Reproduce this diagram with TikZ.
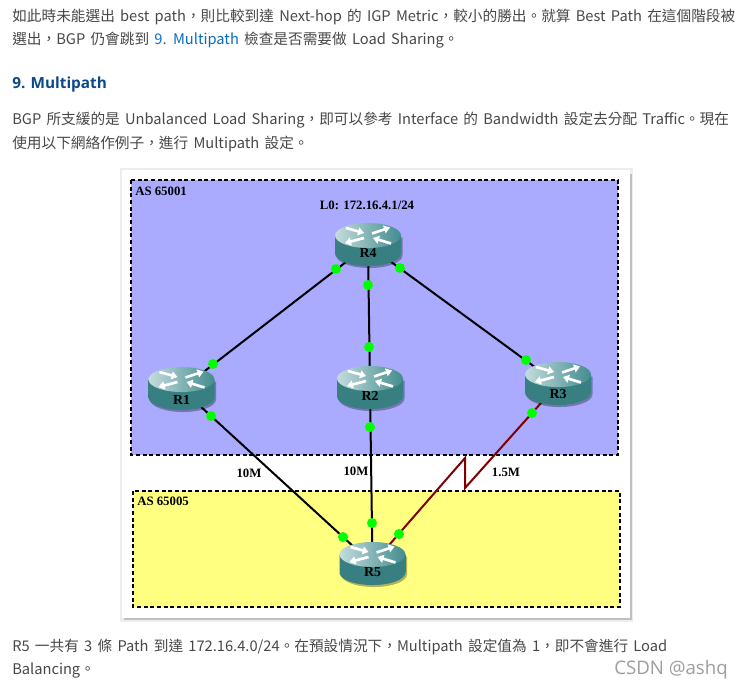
\documentclass[tikz,border=0pt]{standalone}
\usepackage{fontspec}
\setmainfont[WordSpace=1.6]{Noto Sans CJK TC}
\newfontfamily\labelfont{Liberation Serif}
\newfontfamily\headfont{Open Sans}
\newfontfamily\markfont{Open Sans}
\usetikzlibrary{arrows.meta}
\definecolor{bodytext}{HTML}{484848}
\definecolor{headblue}{HTML}{0B4A86}
\definecolor{linkblue}{HTML}{0B6DBE}
\definecolor{asblue}{HTML}{AAAAFF}
\definecolor{asyellow}{HTML}{FFFF80}
\definecolor{teal0}{HTML}{428C8E}
\definecolor{teal1}{HTML}{C4DCDC}
\definecolor{teal2}{HTML}{377F81}
\definecolor{serialred}{HTML}{800000}
\pgfdeclarelayer{card}
\pgfdeclarelayer{conn}
\pgfsetlayers{card,conn,main}
\tikzset{
  para/.style={anchor=base west,inner sep=0pt,text=bodytext,font=\fontsize{11pt}{12pt}\selectfont},
  zone/.style={draw=black,line width=1.5pt,dash pattern=on 3pt off 2pt},
  dlabel/.style={inner sep=0pt,font=\labelfont\bfseries\fontsize{9.6pt}{11pt}\selectfont,text=black},
  rlabel/.style={inner sep=0pt,font=\labelfont\bfseries\fontsize{10.4pt}{11pt}\selectfont,text=black},
  rcentre/.style={inner sep=0pt,minimum size=0pt},
  port/.style={circle,fill=green,inner sep=0pt,minimum size=7.5pt},
  link/.style={draw=black,line width=1.5pt},
  seriallink/.style={draw=serialred,line width=1.5pt},
  rarrow/.style={draw=white,line width=2pt,-{Triangle[length=4.5pt,width=6pt]}}
}
\newcommand{\routerat}[4]{%
  % #1 name, #2 centre x, #3 top y of the icon, #4 label dy
  \begin{scope}[shift={(#2,#3)}]
    \fill[black,opacity=.3] (-31.5,14.5) -- (-31.5,32.5) arc[start angle=180,end angle=360,x radius=24.75pt,y radius=9.4pt] -- (34.5,14.5) -- cycle;
    \shade[left color=teal2,middle color=teal0,right color=teal2] (-33,12.5) -- (-33,30.5) arc[start angle=180,end angle=360,x radius=24.75pt,y radius=9.4pt] -- (33,12.5) -- cycle;
    \shade[left color=teal1,middle color=teal0,right color=teal0] (0,12.5) ellipse[x radius=24.75pt,y radius=9.4pt];
    \draw[rarrow] (-22,5) -- (-4,10);
    \draw[rarrow] (4,10.5) -- (22,4.5);
    \draw[rarrow] (-4,15) -- (-23,20);
    \draw[rarrow] (23,20.5) -- (5,15);
    \node[rcentre] (#1) at (0,22) {};
    \node[rlabel] (#1t) at (0,#4) {#1};
  \end{scope}}
\begin{document}
\begin{tikzpicture}[x=0.75pt,y=-0.75pt]
\useasboundingbox (0,0) rectangle (743,689);
\begin{pgfonlayer}{card}
  \fill[white] (0,0) rectangle (743,689);
  \fill[black!7] (120,168) rectangle (633,622);
  \fill[black!25] (124,174) rectangle (632,620);
  \fill[white] (122,170) rectangle (630,618);
  \fill[asblue] (131,180) rectangle (618,455);
  \fill[asyellow] (133,491) rectangle (620,607);
  \draw[zone] (131,180) rectangle (618,455);
  \draw[zone] (133,491) rectangle (620,607);
\end{pgfonlayer}

\node[para] (p1) at (12,21) {如此時未能選出 best path，則比較到達 Next-hop 的 IGP Metric，較小的勝出。就算 Best Path 在這個階段被};
\node[para] (p2) at (12,44) {選出，BGP 仍會跳到 \textcolor{linkblue}{9. Multipath} 檢查是否需要做 Load Sharing。};
\node[anchor=base west,inner sep=0pt,text=headblue,font=\headfont\bfseries\fontsize{11.5pt}{13pt}\selectfont] (h1) at (12,88) {9. Multipath};
\node[para] (p3) at (12,124) {BGP 所支緩的是 Unbalanced Load Sharing，即可以參考 Interface 的 Bandwidth 設定去分配 Traffic。現在};
\node[para] (p4) at (12,148) {使用以下網絡作例子，進行 Multipath 設定。};
\node[para] (p5) at (12,651) {R5 一共有 3 條 Path 到達 172.16.4.0/24。在預設情況下，Multipath 設定值為 1，即不會進行 Load};
\node[para] (p6) at (12,674) {Balancing。};
\node[anchor=base west,inner sep=0pt,text=black!38,font=\markfont\fontsize{14pt}{16pt}\selectfont] (wm) at (614,674) {CSDN @ashq};

\node[dlabel,anchor=west] (as1) at (135,191) {AS 65001};
\node[dlabel,anchor=west] (as5) at (137,501) {AS 65005};
\node[dlabel] (lo) at (367,205) {L0: 172.16.4.1/24};
\node[dlabel] (m1) at (249,473) {10M};
\node[dlabel] (m2) at (356,471) {10M};
\node[dlabel] (m3) at (506,472) {1.5M};

\routerat{R4}{368}{223}{30}
\routerat{R1}{181.5}{367}{32.5}
\routerat{R2}{370}{366}{30}
\routerat{R3}{558}{362}{32}
\routerat{R5}{372.5}{542}{30}

\coordinate (zigtop) at (465,458);
\coordinate (zigbot) at (465,488);

\begin{pgfonlayer}{conn}
  \draw[link] (R4) -- (R1);
  \draw[link] (R4) -- (R2);
  \draw[link] (R4) -- (R3);
  \draw[link] (R1) -- (R5);
  \draw[link] (R2) -- (R5);
  \draw[seriallink] (R3) -- (zigbot) -- (zigtop) -- (R5);
\end{pgfonlayer}

\node[port] (d41) at (336,269) {};
\node[port] (d42) at (368,285) {};
\node[port] (d43) at (400,268) {};
\node[port] (d14) at (213,364) {};
\node[port] (d15) at (211,416) {};
\node[port] (d24) at (369,347) {};
\node[port] (d25) at (370,427) {};
\node[port] (d34) at (526,360) {};
\node[port] (d35) at (532,413) {};
\node[port] (d51) at (343,537) {};
\node[port] (d52) at (372,523) {};
\node[port] (d53) at (399,534) {};
\end{tikzpicture}
\end{document}
